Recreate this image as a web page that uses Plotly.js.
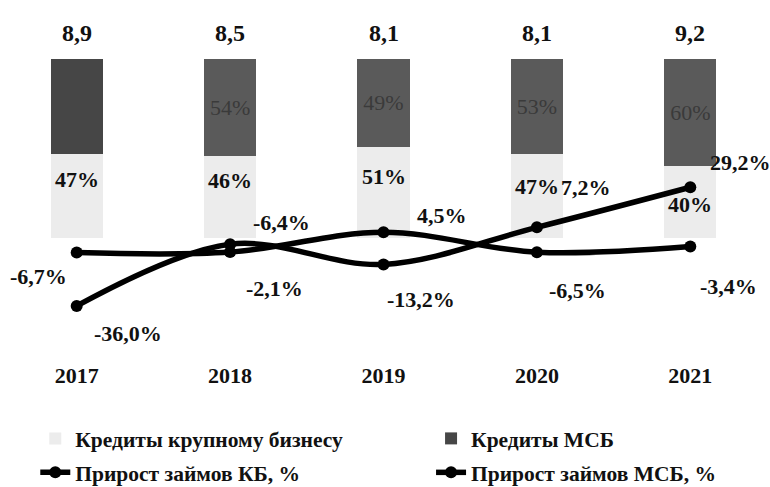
<!DOCTYPE html>
<html>
<head>
<meta charset="utf-8">
<script src="https://cdn.plot.ly/plotly-3.0.1.min.js"></script>
<style>html,body{margin:0;padding:0;background:#fff;}#chart{width:770px;height:487px;}</style>
</head>
<body>
<div id="chart"></div>
<script>
// ---- data ----
const years = ['2017', '2018', '2019', '2020', '2021'];
const totals = [8.9, 8.5, 8.1, 8.1, 9.2];          // total loans
const shareKB = [47, 46, 51, 47, 40];               // Кредиты крупному бизнесу, %
const shareMSB = [53, 54, 49, 53, 60];              // Кредиты МСБ, %
const growthKB = [-6.7, -6.4, 4.5, -6.5, -3.4];     // Прирост займов КБ, %
const growthMSB = [-36.0, -2.1, -13.2, 7.2, 29.2];  // Прирост займов МСБ, %

// ---- label placement (px offsets) ----
const kbShift = [[-38, -24], [51, 30], [58, 17], [41, -38], [38, -40]];
const msbShift = [[51, -28], [44, -44], [37, -35], [49, 40], [50, 25]];
const kbBarLabelShift = [-11, -10, -15, -18, -24];

const fmt = v => v.toFixed(1).replace('.', ',');
const SERIF = 'Liberation Serif, Times New Roman, serif';

const traces = [
  {
    type: 'bar', x: years, y: shareKB, name: 'Кредиты крупному бизнесу',
    marker: {color: '#ececec'}, width: 0.34, legend: 'legend', legendgroup: 'a',
    hoverinfo: 'skip'
  },
  {
    type: 'bar', x: years, y: shareMSB, name: 'Кредиты МСБ',
    marker: {color: ['#464646', '#5a5a5a', '#5a5a5a', '#5a5a5a', '#5a5a5a']},
    width: 0.34, legend: 'legend2', legendgroup: 'b',
    text: shareMSB.map((v, i) => i === 0 ? '' : v + '%'),
    textposition: 'inside', insidetextanchor: 'middle', constraintext: 'none',
    textfont: {family: SERIF, size: 22, color: '#3a3a3a'},
    hoverinfo: 'skip'
  },
  {
    type: 'scatter', mode: 'lines+markers', x: years, y: growthKB, yaxis: 'y2',
    name: 'Прирост займов КБ, %', legend: 'legend', legendgroup: 'c',
    line: {color: '#000', width: 5.5, shape: 'spline', smoothing: 1},
    marker: {color: '#000', size: 12}
  },
  {
    type: 'scatter', mode: 'lines+markers', x: years, y: growthMSB, yaxis: 'y2',
    name: 'Прирост займов МСБ, %', legend: 'legend2', legendgroup: 'd',
    line: {color: '#000', width: 5.5, shape: 'spline', smoothing: 1},
    marker: {color: '#000', size: 12}
  }
];

const annotations = [];
const boldFont = (s) => ({family: SERIF, size: s, color: '#111', weight: 'bold'});
years.forEach((yr, i) => {
  // i = category position of the year on the x axis
  annotations.push({
    x: i, y: shareKB[i] + shareMSB[i], xref: 'x', yref: 'y',
    text: fmt(totals[i]), showarrow: false, yanchor: 'bottom', yshift: 11,
    font: boldFont(24)
  });
  annotations.push({
    x: i, y: shareKB[i], xref: 'x', yref: 'y',
    text: shareKB[i] + '%', showarrow: false, yanchor: 'top', yshift: kbBarLabelShift[i],
    font: boldFont(22)
  });
  annotations.push({
    x: i, y: growthKB[i], xref: 'x', yref: 'y2',
    text: fmt(growthKB[i]) + '%', showarrow: false,
    xshift: kbShift[i][0], yshift: kbShift[i][1], font: boldFont(22)
  });
  annotations.push({
    x: i, y: growthMSB[i], xref: 'x', yref: 'y2',
    text: fmt(growthMSB[i]) + '%', showarrow: false,
    xshift: msbShift[i][0], yshift: msbShift[i][1], font: boldFont(22)
  });
});

const legendBase = {
  orientation: 'v', xanchor: 'left', yanchor: 'top', y: -0.181,
  bgcolor: 'rgba(0,0,0,0)', traceorder: 'grouped', tracegroupgap: 3,
  itemwidth: 30, font: boldFont(21.5)
};

const layout = {
  width: 770, height: 487,
  margin: {l: 0, r: 3, t: 40, b: 127, autoexpand: false},
  paper_bgcolor: '#fff', plot_bgcolor: '#fff',
  barmode: 'stack', showlegend: true,
  xaxis: {
    type: 'category', range: [-0.5, 4.5], showgrid: false, zeroline: false,
    showline: false, ticks: '', ticklabelstandoff: 0, tickfont: boldFont(22)
  },
  yaxis: {range: [-68.2, 110.6], visible: false, fixedrange: true},
  yaxis2: {range: [-65.7, 110.1], overlaying: 'y', visible: false, fixedrange: true},
  legend: Object.assign({}, legendBase, {x: 0.046}),
  legend2: Object.assign({}, legendBase, {x: 0.562}),
  annotations: annotations
};

Plotly.newPlot('chart', traces, layout, {displayModeBar: false, staticPlot: true});
</script>
</body>
</html>
